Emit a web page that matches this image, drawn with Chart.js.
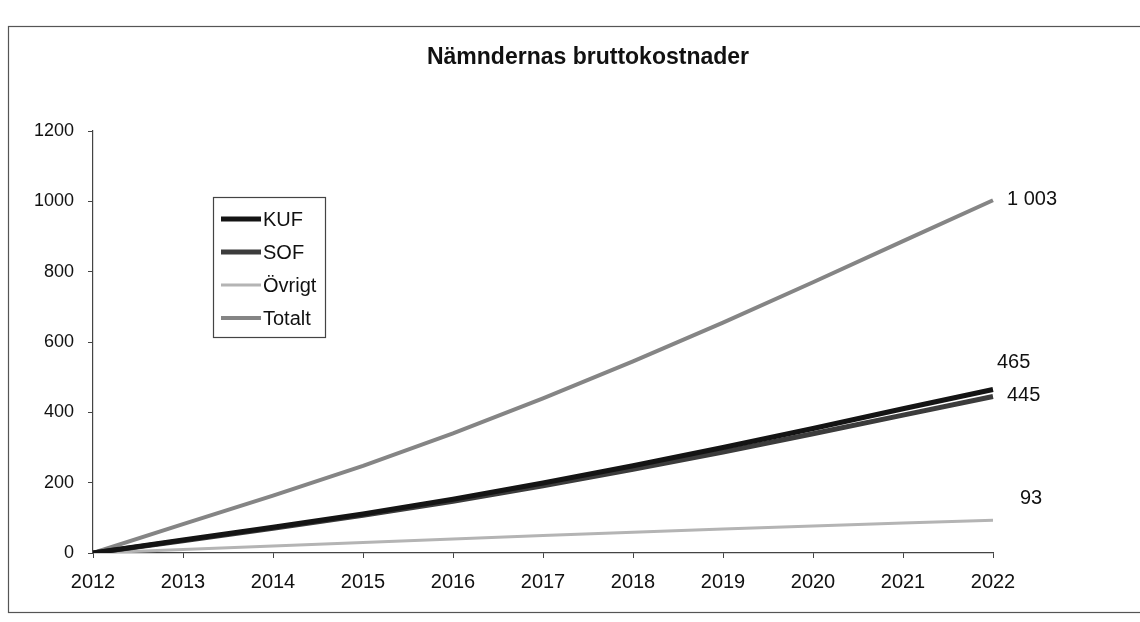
<!DOCTYPE html>
<html>
<head>
<meta charset="utf-8">
<script src="https://cdn.jsdelivr.net/npm/chart.js@4/dist/chart.umd.min.js"></script>
<style>
  html, body { margin: 0; padding: 0; background: #ffffff; }
  #wrap { position: relative; width: 1140px; height: 622px; }
  canvas { display: block; }
</style>
</head>
<body>
<div id="wrap"><canvas id="c" width="1140" height="622"></canvas></div>
<script>
// ---- data ----
const chartTitle = 'Nämndernas bruttokostnader';
const years  = ['2012','2013','2014','2015','2016','2017','2018','2019','2020','2021','2022'];
const kuf    = [0, 37, 73, 111, 153, 199, 248, 300, 354, 410, 465];
const sof    = [0, 35, 70, 107, 147, 191, 238, 287, 339, 392, 445];
const ovrigt = [0, 10, 20, 30, 40, 50, 59, 68, 77, 85, 93];
const totalt = [0, 82, 163, 248, 340, 440, 545, 655, 770, 887, 1003];
const seriesNames = ['KUF', 'SOF', 'Övrigt', 'Totalt'];
const yMin = 0, yMax = 1200, yStep = 200;

function fmt(v) { return String(v).replace(/\B(?=(\d{3})+(?!\d))/g, ' '); }

const FONT = '"Liberation Sans", Arial, Helvetica, sans-serif';

// ---- styles (kept apart from data) ----
const styles = [
  { color: '#141414', width: 5, label: { dx: 4,  dy: -27 } },
  { color: '#3c3c3c', width: 5, label: { dx: 14, dy: -1 } },
  { color: '#b4b4b4', width: 3, label: { dx: 27, dy: -22 } },
  { color: '#858585', width: 4, label: { dx: 14, dy: -1 } }
];
const seriesData = [kuf, sof, ovrigt, totalt];

const datasets = seriesData.map((d, i) => ({
  label: seriesNames[i],
  data: d,
  borderColor: styles[i].color,
  backgroundColor: styles[i].color,
  borderWidth: styles[i].width,
  pointRadius: 0,
  tension: 0,
  fill: false
}));

const decoPlugin = {
  id: 'deco',
  beforeDraw(chart) {
    const ctx = chart.ctx;
    ctx.save();
    ctx.strokeStyle = '#555';
    ctx.lineWidth = 1.2;
    ctx.strokeRect(8.5, 26.5, 1140, 586);
    ctx.restore();
  },
  afterDraw(chart) {
    const ctx = chart.ctx;
    ctx.save();
    // title
    ctx.fillStyle = '#111';
    ctx.font = 'bold 23px ' + FONT;
    ctx.textAlign = 'center';
    ctx.textBaseline = 'middle';
    ctx.fillText(chartTitle, 588, 58);

    // end-of-line value labels
    ctx.font = '20px ' + FONT;
    ctx.textAlign = 'left';
    chart.data.datasets.forEach((ds, i) => {
      const meta = chart.getDatasetMeta(i);
      const last = meta.data[meta.data.length - 1];
      const v = ds.data[ds.data.length - 1];
      ctx.fillStyle = '#111';
      ctx.fillText(fmt(v), last.x + styles[i].label.dx, last.y + styles[i].label.dy);
    });

    // legend box
    const bx = 213.5, by = 197.5, bw = 112, bh = 140;
    ctx.fillStyle = '#fff';
    ctx.fillRect(bx, by, bw, bh);
    ctx.strokeStyle = '#444';
    ctx.lineWidth = 1.2;
    ctx.strokeRect(bx, by, bw, bh);
    const rowsY = [219, 252, 285, 318];
    ctx.font = '20px ' + FONT;
    ctx.textBaseline = 'middle';
    chart.data.datasets.forEach((ds, i) => {
      const y = rowsY[i];
      ctx.strokeStyle = styles[i].color;
      ctx.lineWidth = styles[i].width;
      ctx.beginPath();
      ctx.moveTo(221, y);
      ctx.lineTo(261, y);
      ctx.stroke();
      ctx.fillStyle = '#111';
      ctx.fillText(ds.label, 263, y + 1);
    });
    ctx.restore();
  }
};

new Chart(document.getElementById('c'), {
  type: 'line',
  data: { labels: years, datasets },
  options: {
    responsive: false,
    animation: false,
    layout: { padding: { top: 131, right: 147, bottom: 0, left: 0 } },
    plugins: {
      legend: { display: false },
      title: { display: false },
      tooltip: { enabled: false }
    },
    scales: {
      x: {
        offset: false,
        grid: { drawOnChartArea: false, drawTicks: true, tickLength: 5, color: '#444' },
        border: { color: '#444', width: 1.2 },
        ticks: { font: { family: FONT, size: 20 }, color: '#111', padding: 12, maxRotation: 0, autoSkip: false },
        afterFit(scale) { scale.height = 69; }
      },
      y: {
        min: yMin, max: yMax,
        grid: { drawOnChartArea: false, drawTicks: true, tickLength: 5, color: '#444' },
        border: { color: '#444', width: 1.2 },
        ticks: {
          stepSize: yStep, font: { family: FONT, size: 18 }, color: '#111', padding: 14,
          callback: (v) => String(v)
        },
        afterFit(scale) { scale.width = 93; }
      }
    }
  },
  plugins: [decoPlugin]
});
</script>
</body>
</html>
